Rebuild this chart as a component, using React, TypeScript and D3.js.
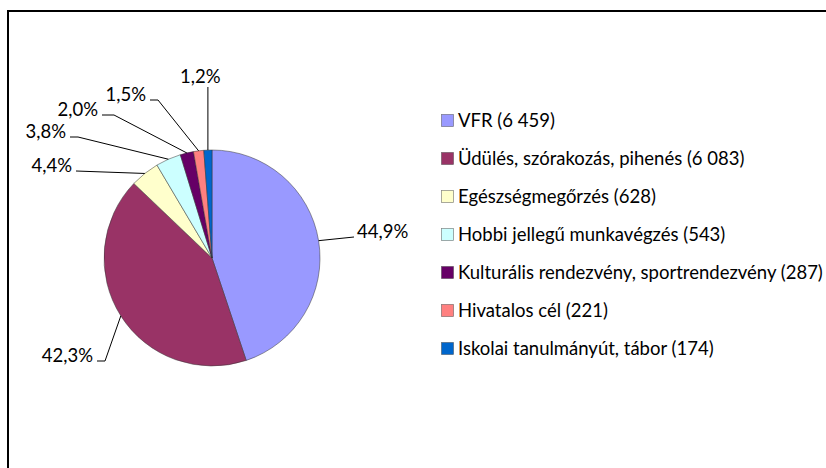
import React, { useEffect, useRef } from 'react';
import * as d3 from 'd3';

// chart data
const categories = [
  'VFR',
  'Üdülés, szórakozás, pihenés',
  'Egészségmegőrzés',
  'Hobbi jellegű munkavégzés',
  'Kulturális rendezvény, sportrendezvény',
  'Hivatalos cél',
  'Iskolai tanulmányút, tábor',
];
const counts = [6459, 6083, 628, 543, 287, 221, 174];
const colors = ['#9999FF', '#993366', '#FFFFCC', '#CCFFFF', '#660066', '#FF8080', '#0066CC'];

// label anchors (layout only): text box edge, vertical center and optional elbow length
const labelLayout = [
  { x: 357, y: 232, side: 'right', elbow: 0 },
  { x: 93, y: 356, side: 'left', elbow: 8 },
  { x: 72, y: 166, side: 'left', elbow: 0 },
  { x: 66, y: 132, side: 'left', elbow: 8 },
  { x: 98, y: 110, side: 'left', elbow: 12 },
  { x: 146, y: 95, side: 'left', elbow: 8 },
  { x: 200, y: 77, side: 'top', elbow: 0 },
];

const W = 826;
const H = 468;
const FONT = 'Lato, "Open Sans", sans-serif';
const FS = 18.5;

const App = () => {
  const svgRef = useRef<SVGSVGElement>(null);

  useEffect(() => {
    const svg = d3.select(svgRef.current);
    svg.selectAll('*').remove();

    svg.append('rect')
      .attr('width', W).attr('height', H)
      .attr('fill', '#fff');

    // outer chart frame (cut off at right and bottom)
    svg.append('rect')
      .attr('x', 8).attr('y', 11)
      .attr('width', 1000).attr('height', 1000)
      .attr('fill', 'none')
      .attr('stroke', '#000')
      .attr('stroke-width', 2);

    const cx = 212;
    const cy = 258;
    const r = 108;

    const total = d3.sum(counts);
    const data = categories.map((c, i) => ({ name: c, value: counts[i], color: colors[i] }));

    const pie = d3.pie<any>()
      .value(d => d.value)
      .sort(null);
    const arcs = pie(data);
    const arc = d3.arc<any>().innerRadius(0).outerRadius(r);

    const g = svg.append('g').attr('transform', `translate(${cx},${cy})`);

    g.selectAll('path')
      .data(arcs)
      .enter()
      .append('path')
      .attr('d', arc)
      .attr('fill', d => d.data.color)
      .attr('stroke', '#333')
      .attr('stroke-opacity', 0.7)
      .attr('stroke-width', 0.7);

    const pct = (v: number) => d3.format('.1%')(v / total).replace('.', ',');

    // leader lines + labels
    arcs.forEach((a, i) => {
      const mid = (a.startAngle + a.endAngle) / 2;
      const ex = cx + r * Math.sin(mid);
      const ey = cy - r * Math.cos(mid);
      const L = labelLayout[i];
      let pts: [number, number][];
      if (L.side === 'right') {
        pts = [[ex, ey], [L.x - 3, L.y + 5]];
      } else if (L.side === 'top') {
        pts = [[ex, ey], [ex, L.y + 10]];
      } else {
        const lx = L.x + 4;
        const ly = L.y + 5;
        pts = L.elbow ? [[ex, ey], [lx + L.elbow, ly], [lx, ly]] : [[ex, ey], [lx, ly]];
      }
      svg.append('path')
        .attr('d', d3.line()(pts))
        .attr('fill', 'none')
        .attr('stroke', '#000')
        .attr('stroke-width', 1);

      svg.append('text')
        .attr('x', L.side === 'top' ? L.x - 20 : L.x)
        .attr('y', L.y)
        .attr('dy', '0.35em')
        .attr('text-anchor', L.side === 'left' ? 'end' : 'start')
        .attr('font-family', FONT)
        .attr('font-size', FS)
        .attr('fill', '#000')
        .text(pct(a.data.value));
    });

    // legend
    const huLocale = d3.formatLocale({ decimal: ',', thousands: '\u00a0', grouping: [3], currency: ['', ' Ft'] });
    const fmt = huLocale.format(',d');
    const legendY = d3.scalePoint<string>()
      .domain(categories)
      .range([120.5, 348.5]);

    const lg = svg.append('g');
    data.forEach(d => {
      const y = legendY(d.name) as number;
      lg.append('rect')
        .attr('x', 441.5).attr('y', y - 6)
        .attr('width', 12).attr('height', 12)
        .attr('fill', d.color)
        .attr('stroke', '#333')
        .attr('stroke-opacity', 0.6)
        .attr('stroke-width', 0.7);
      lg.append('text')
        .attr('x', 458)
        .attr('y', y)
        .attr('dy', '0.35em')
        .attr('font-family', FONT)
        .attr('font-size', FS)
        .attr('fill', '#000')
        .text(`${d.name} (${fmt(d.value)})`);
    });
  }, []);

  return (
    <svg
      ref={svgRef}
      width={W}
      height={H}
      style={{ position: 'absolute', left: 0, top: 0, display: 'block' }}
    />
  );
};

export default App;
